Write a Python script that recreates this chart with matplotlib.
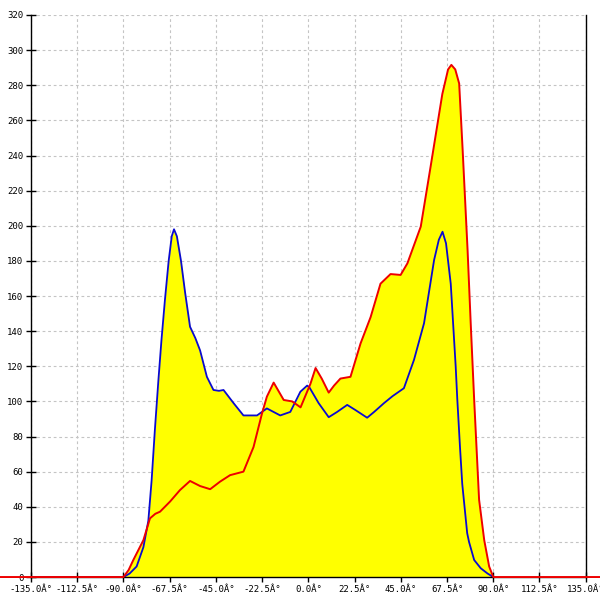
import numpy as np
import matplotlib
matplotlib.use('Agg')
import matplotlib.pyplot as plt

# blue series (angle in degrees, value)
blue_x = [-150, -90, -87, -83.6, -80.3, -77.9, -76.3, -74.7, -73, -71.5, -69.8, -68, -66.5, -65.4,
          -64, -62, -60, -57.6, -55, -52.7, -49.4, -46.2, -43.5, -41.3, -36.4, -31.6, -25, -20.2, -13.7,
          -8.8, -3.9, -0.6, 0.5, 5, 9.9, 14, 18.9, 23, 28.6, 32, 36.8, 41, 46.5, 51.4, 56.3,
          61.2, 63.5, 65.3, 67, 69.3, 71.7, 72.5, 73.8, 74.9, 77.3, 78.2, 80.7, 83.9, 87.2, 90]
blue_y = [0, 0, 2, 6, 17, 32, 55, 84, 112, 135, 158, 180, 194, 198,
          194, 180, 162, 142.5, 136, 129, 114, 106.5, 106, 106.5, 99, 92, 92, 96, 92,
          94, 105.5, 109, 108, 99, 91, 94, 98, 95, 90.7, 94, 99, 103, 107.5, 123.6, 144.5,
          180.5, 192, 196.6, 190, 167, 120, 101, 74, 53, 25, 20, 9.7, 5, 2, 0]

# red series
red_x = [-150, -90, -87.5, -85.2, -80.3, -77.1, -74.5, -72.2, -67.3, -62.5, -57.6, -52.7, -47.8, -43,
         -38.1, -31.6, -26.7, -22.6, -20.2, -16.9, -12, -7.9, -3.8, 1, 3.5, 6.5, 9.9, 12.5,
         15.6, 20.5, 25.4, 30.3, 35.1, 40, 44.9, 48.2, 54.7, 59.5, 65.2, 68, 69.6, 71.5, 73.4,
         75.1, 76.7, 77.5, 79, 80.7, 83.1, 85.6, 88, 90, 142.5]
red_y = [0, 0, 4, 9.7, 21, 33.4, 36, 37.2, 43, 49.5, 54.7, 51.8, 50, 54.3,
         58, 60, 74, 93, 102.7, 110.7, 100.8, 100, 96.6, 110, 119, 113, 105, 109,
         113, 114, 133, 148, 167, 172.5, 172, 178.6, 199.5, 233.7, 275, 289, 291.6, 289, 281,
         243, 205, 186, 145, 101, 44, 21, 6, 0, 0]

x_ticks = np.arange(-135, 135.1, 22.5)
x_labels = ['%.1f\u00c2\u00b0' % t for t in x_ticks]
y_ticks = np.arange(0, 321, 20)

fig = plt.figure(figsize=(6, 6), dpi=100)
ax = fig.add_axes([0.0517, 0.0383, 0.9245, 0.9367])

ax.fill_between(blue_x, 0, blue_y, color='#ffff00', linewidth=0)
ax.fill_between(red_x, 0, red_y, color='#ffff00', linewidth=0)
ax.plot(blue_x, blue_y, color='#0a0ad0', lw=1.3)
ax.plot(red_x, red_y, color='#ee0000', lw=1.4, clip_on=False, zorder=5)

ax.set_xlim(-135, 135)
ax.set_ylim(0, 320)
ax.set_xticks(x_ticks)
ax.set_xticklabels(x_labels)
ax.set_yticks(y_ticks)
ax.grid(True, color='#c4c4c4', linestyle=(0, (2.5, 2.5)), linewidth=0.8)
ax.set_axisbelow(True)

ax.spines['top'].set_visible(False)
for s in ['left', 'right', 'bottom']:
    ax.spines[s].set_color('black')
    ax.spines[s].set_linewidth(1.0)
ax.tick_params(axis='both', direction='inout', length=7, width=1, labelsize=6.5, pad=2)
ax.tick_params(axis='y', right=False)
for lbl in ax.get_xticklabels() + ax.get_yticklabels():
    lbl.set_family('DejaVu Sans Mono')

plt.savefig('out.png', dpi=100)
